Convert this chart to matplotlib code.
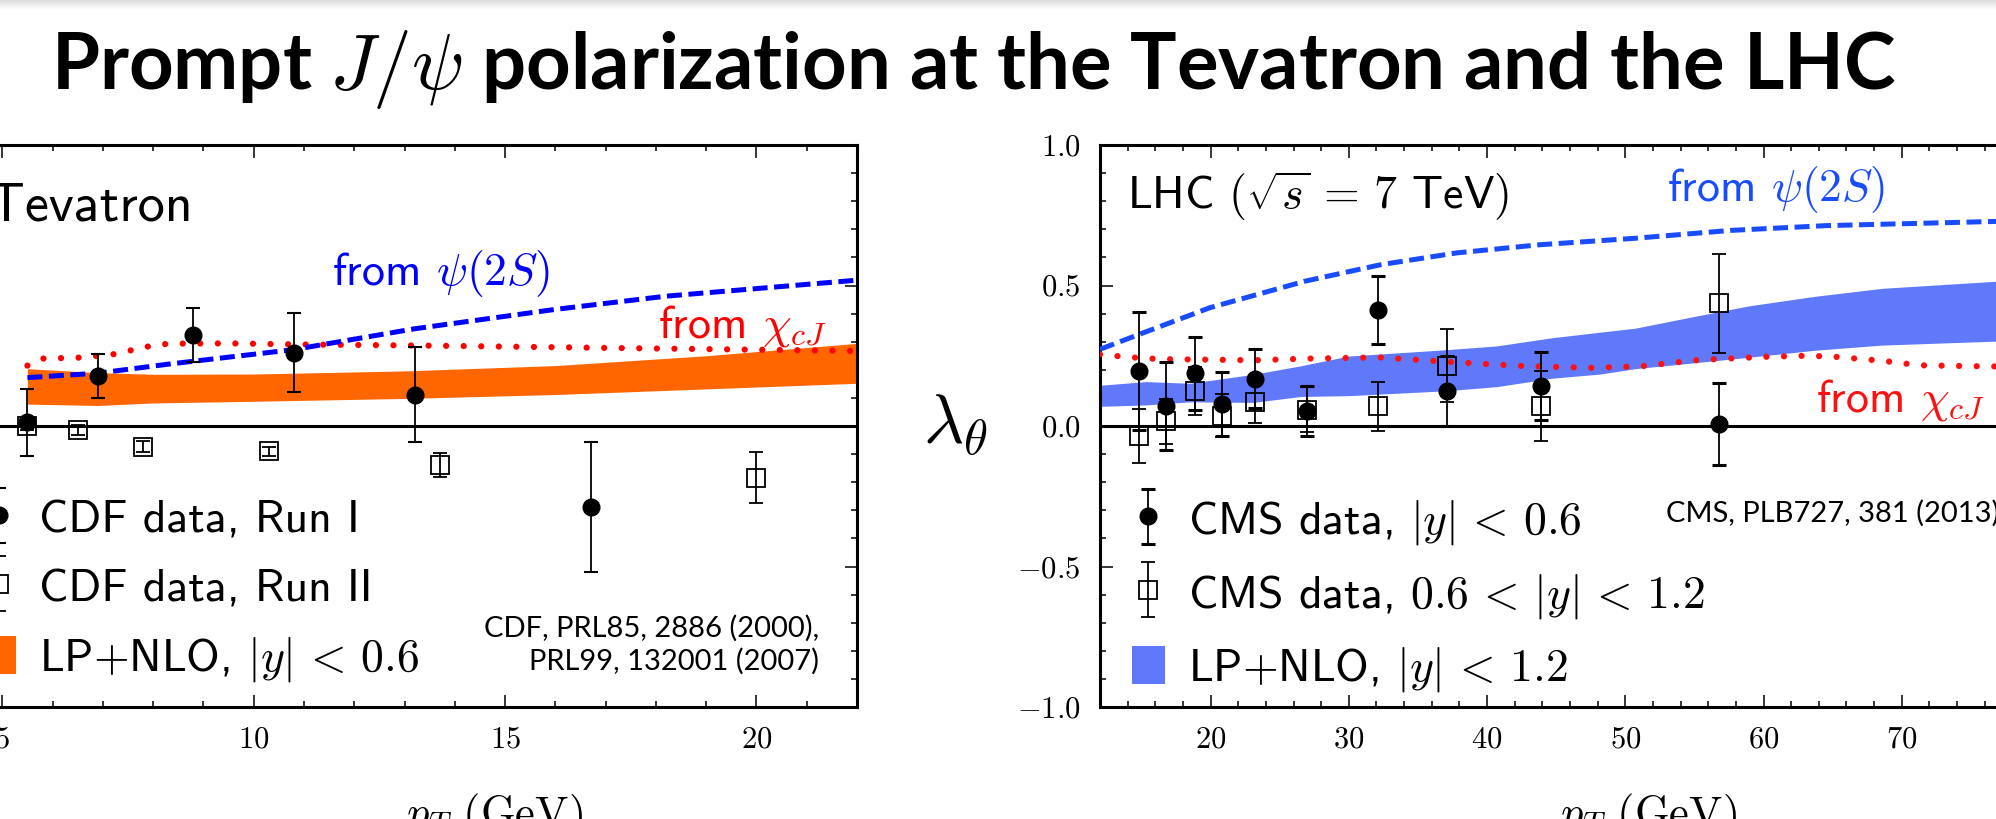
import numpy as np
import matplotlib
matplotlib.use("Agg")
import matplotlib.pyplot as plt
from matplotlib.ticker import MultipleLocator, FuncFormatter
from matplotlib.container import ErrorbarContainer
from matplotlib.legend_handler import HandlerErrorbar

plt.rcParams['mathtext.fontset'] = 'cm'
plt.rcParams['font.family'] = ['cmss10', 'DejaVu Sans']

# ---- Tevatron (CDF) ----
cdf1_pt = [5.5, 6.9, 8.8, 10.8, 13.2, 16.7]
cdf1_lam = [0.013, 0.178, 0.324, 0.261, 0.112, -0.288]
cdf1_err = [0.12, 0.08, 0.097, 0.14, 0.17, 0.23]

cdf2_pt = [5.5, 6.5, 7.8, 10.3, 13.7, 20.0]
cdf2_lam = [0.0, -0.013, -0.074, -0.09, -0.138, -0.184]
cdf2_err = [0.015, 0.018, 0.02, 0.015, 0.043, 0.09]

tev_band_pt = [5.5, 6.9, 8.0, 10.0, 13.0, 16.0, 19.0, 22.0]
tev_band_lo = [0.078, 0.073, 0.082, 0.088, 0.098, 0.112, 0.132, 0.152]
tev_band_hi = [0.204, 0.190, 0.184, 0.185, 0.196, 0.215, 0.250, 0.294]

tev_chi_pt = [5.5, 5.8, 6.5, 7.2, 7.9, 8.3, 9.5, 11.0, 13.5, 17.0, 22.0]
tev_chi_val = [0.215, 0.240, 0.243, 0.255, 0.283, 0.293, 0.294, 0.290, 0.286, 0.278, 0.267]

tev_psi_pt = [5.5, 6.9, 8.3, 10.8, 13.2, 16.0, 18.2, 22.0]
tev_psi_val = [0.172, 0.188, 0.220, 0.272, 0.346, 0.415, 0.462, 0.519]

# ---- LHC (CMS) ----
cms1_pt = [14.8, 16.8, 18.9, 20.8, 23.2, 27.0, 32.1, 37.1, 43.9, 56.8]
cms1_lam = [0.196, 0.07, 0.187, 0.078, 0.169, 0.054, 0.413, 0.124, 0.143, 0.007]
cms1_err = [0.21, 0.156, 0.13, 0.115, 0.104, 0.09, 0.12, 0.125, 0.12, 0.147]

cms2_pt = [14.8, 16.8, 18.9, 20.8, 23.2, 27.0, 32.1, 37.1, 43.9, 56.8]
cms2_lam = [-0.035, 0.017, 0.125, 0.037, 0.087, 0.058, 0.07, 0.214, 0.072, 0.436]
cms2_err = [0.096, 0.08, 0.086, 0.076, 0.076, 0.08, 0.087, 0.13, 0.125, 0.175]

lhc_band_pt = [12, 15.3, 18.5, 23.1, 26.5, 30.0, 36.9, 40.7, 44.7, 48.2, 50.7,
               55.0, 59.0, 63.8, 68.6, 76.8, 80.0]
lhc_band_hi = [0.145, 0.158, 0.152, 0.184, 0.214, 0.249, 0.271, 0.285, 0.314, 0.334,
               0.348, 0.390, 0.428, 0.462, 0.490, 0.515, 0.520]
lhc_band_lo = [0.070, 0.075, 0.086, 0.084, 0.105, 0.108, 0.125, 0.140, 0.170, 0.185,
               0.204, 0.225, 0.245, 0.270, 0.288, 0.302, 0.305]

lhc_psi_pt = [12, 15.8, 19.95, 26.8, 32.3, 37.8, 43.8, 50.7, 57.6, 64.5, 76.8, 80]
lhc_psi_val = [0.273, 0.344, 0.421, 0.515, 0.574, 0.616, 0.645, 0.668, 0.696, 0.713, 0.728, 0.730]

lhc_chi_pt = [12, 14, 16.3, 20, 23.1, 27.2, 32.2, 37.3, 42.4, 47.4, 51, 55.3, 60.0,
              63, 65.0, 68.6, 71.3, 76.4, 80]
lhc_chi_val = [0.255, 0.245, 0.238, 0.236, 0.234, 0.240, 0.244, 0.228, 0.214, 0.207,
               0.212, 0.235, 0.246, 0.250, 0.247, 0.232, 0.216, 0.212, 0.212]

W, H = 1996, 819
fig = plt.figure(figsize=(W / 100, H / 100), dpi=100)

# light shadow under the slide header
grad = fig.add_axes([0, 1 - 10 / H, 1, 10 / H])
grad.imshow(np.linspace(0.86, 1.0, 20)[:, None] * np.ones((1, 2)), cmap='gray',
            vmin=0, vmax=1, aspect='auto', extent=[0, 1, 0, 1])
grad.axis('off')

fig.text(51 / W, 1 - 89 / H, r"Prompt $J/\psi$ polarization at the Tevatron and the LHC",
         family='Lato', weight='bold', fontsize=56, va='baseline', ha='left')


def px_axes(left, right, top=145, bottom=707):
    return fig.add_axes([left / W, (H - bottom) / H, (right - left) / W, (bottom - top) / H])


def style(ax, xmaj, xmin):
    ax.set_ylim(-1, 1)
    ax.xaxis.set_major_locator(MultipleLocator(xmaj))
    ax.xaxis.set_minor_locator(MultipleLocator(xmin))
    ax.yaxis.set_major_locator(MultipleLocator(0.5))
    ax.yaxis.set_minor_locator(MultipleLocator(0.1))
    ax.xaxis.set_major_formatter(FuncFormatter(lambda v, p: f"${v:.0f}$"))
    ax.yaxis.set_major_formatter(FuncFormatter(lambda v, p: f"${v:.1f}$"))
    ax.tick_params(which='both', direction='in', top=True, right=True, width=1.1,
                   labelsize=22, pad=14)
    ax.tick_params(which='major', length=9)
    ax.tick_params(which='minor', length=4.5)
    for s in ax.spines.values():
        s.set_linewidth(2.2)
    ax.axhline(0, color='black', lw=2.2, zorder=1.5)


def data_points(ax, x1, y1, e1, x2, y2, e2, cap):
    h1 = ax.errorbar(x1, y1, yerr=e1, fmt='o', color='black', ms=12, elinewidth=1.3,
                     capsize=5, capthick=cap, zorder=5)
    h2 = ax.errorbar(x2, y2, yerr=e2, fmt='s', color='black', mfc='none', ms=13, mew=1.3,
                     elinewidth=1.3, capsize=5, capthick=cap, zorder=4)
    return h1, h2


def add_legend(ax, handles, labels):
    ax.legend(handles, labels, loc='upper left', bbox_to_anchor=(0.034, 0.372),
              frameon=False, fontsize=33, borderpad=0, borderaxespad=0,
              handlelength=0.72, handleheight=0.9, handletextpad=0.5, labelspacing=0.54,
              handler_map={ErrorbarContainer: HandlerErrorbar(xerr_size=0.6, yerr_size=0.6)})


dashes = (0, (3.0, 1.3))
dots = (0, (0.01, 2.8))

# ---- Tevatron panel ----
ax1 = px_axes(-48, 857)
ax1.set_xlim(4, 22)
style(ax1, 5, 1)
band1 = ax1.fill_between(tev_band_pt, tev_band_lo, tev_band_hi, color='#ff6600', lw=0, zorder=2)
ax1.plot(tev_chi_pt, tev_chi_val, color='#ff0000', lw=4.5, ls=dots, dash_capstyle='round', zorder=3)
ax1.plot(tev_psi_pt, tev_psi_val, color='#0000ff', lw=3.6, ls=dashes, zorder=3)
p1, p2 = data_points(ax1, cdf1_pt, cdf1_lam, cdf1_err, cdf2_pt, cdf2_lam, cdf2_err, 1.5)
add_legend(ax1, [p1, p2, band1],
           ["CDF data, Run I", "CDF data, Run II", r"LP+NLO, $|y|\,<\,0.6$"])
ax1.text(0.04, 0.8665, "Tevatron", transform=ax1.transAxes, fontsize=39, va='baseline')
ax1.text(0.42, 0.751, r"from $\psi(2S)$", transform=ax1.transAxes, fontsize=33,
         color='#0000ff', va='baseline')
ax1.text(0.78, 0.658, r"from $\chi_{cJ}$", transform=ax1.transAxes, fontsize=33,
         color='#ff0000', va='baseline')
ax1.text(0.958, 0.066, "CDF, PRL85, 2886 (2000),\nPRL99, 132001 (2007)", transform=ax1.transAxes,
         family='Lato', fontsize=21, ha='right', va='baseline', multialignment='right',
         linespacing=1.3)
ax1.set_xlabel(r"$p_T\ (\mathrm{GeV})$", fontsize=32)
ax1.xaxis.set_label_coords(0.599, -0.151)
ax1.xaxis.label.set_va('top')

# ---- LHC panel ----
ax2 = px_axes(1100, 2040)
ax2.set_xlim(12, 80)
style(ax2, 10, 2)
band2 = ax2.fill_between(lhc_band_pt, lhc_band_lo, lhc_band_hi, color='#6078fa', lw=0, zorder=2)
ax2.plot(lhc_chi_pt, lhc_chi_val, color='#ff1010', lw=4.5, ls=dots, dash_capstyle='round', zorder=3)
ax2.plot(lhc_psi_pt, lhc_psi_val, color='#1a4cff', lw=3.6, ls=dashes, zorder=3)
q1, q2 = data_points(ax2, cms1_pt, cms1_lam, cms1_err, cms2_pt, cms2_lam, cms2_err, 2.2)
add_legend(ax2, [q1, q2, band2],
           [r"CMS data, $|y|\,<\,0.6$", r"CMS data, $0.6\,<\,|y|\,<\,1.2$",
            r"LP+NLO, $|y|\,<\,1.2$"])
ax2.text(0.0287, 0.886, r"LHC $(\sqrt{s}\,=\,7$ TeV$)$", transform=ax2.transAxes, fontsize=33,
         va='baseline')
ax2.text(0.603, 0.900, r"from $\psi(2S)$", transform=ax2.transAxes, fontsize=33,
         color='#1a4cff', va='baseline')
ax2.text(0.762, 0.525, r"from $\chi_{cJ}$", transform=ax2.transAxes, fontsize=33,
         color='#ff1010', va='baseline')
ax2.text(0.957, 0.329, "CMS, PLB727, 381 (2013)", transform=ax2.transAxes,
         family='Lato', fontsize=21, ha='right', va='baseline')
ax2.set_xlabel(r"$p_T\ (\mathrm{GeV})$", fontsize=32)
ax2.xaxis.set_label_coords(0.583, -0.151)
ax2.xaxis.label.set_va('top')
ax2.set_ylabel(r"$\lambda_\theta$", fontsize=50, rotation=0)
ax2.yaxis.set_label_coords(-0.154, 0.5)
ax2.yaxis.label.set_va('center')
ax2.yaxis.label.set_ha('center')

fig.savefig("out.png", dpi=100)
